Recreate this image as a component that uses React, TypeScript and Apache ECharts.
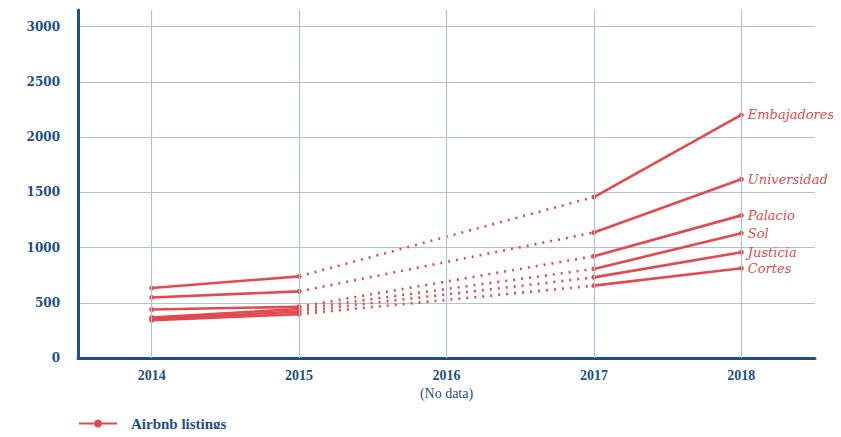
import React, { useEffect, useRef } from "react";
import * as echarts from "echarts";

const years = ["2014", "2015", "2016", "2017", "2018"];
const districts = ["Embajadores", "Universidad", "Palacio", "Sol", "Justicia", "Cortes"];
const listings2014 = [633, 548, 439, 367, 352, 342];
const listings2015 = [739, 603, 464, 443, 421, 397];
const listings2017 = [1457, 1136, 921, 806, 730, 655];
const listings2018 = [2200, 1618, 1291, 1130, 957, 812];
const yTicks = [0, 500, 1000, 1500, 2000, 2500, 3000];

const RED = "#e24a4f";
const BLUE = "#1d4f8b";
const GRID = "#aec2d8";
const SERIES_NAME = "Airbnb listings";

export default function App() {
  const ref = useRef<HTMLDivElement>(null);
  useEffect(() => {
    if (!ref.current) return;
    const chart = echarts.init(ref.current, null, { renderer: "svg" });
    const series: any[] = [];
    series.push({
      type: "line",
      name: "grid",
      data: [],
      silent: true,
      z: 1,
      markLine: {
        silent: true,
        symbol: ["none", "none"],
        label: { show: false },
        lineStyle: { color: GRID, width: 1.2, type: "solid" },
        data: years.map((y) => ({ xAxis: y })),
      },
    });
    districts.forEach((d, i) => {
      series.push({
        type: "line",
        name: SERIES_NAME,
        z: 3,
        data: [listings2014[i], listings2015[i], null, null, null],
        symbol: "circle",
        symbolSize: 5,
        lineStyle: { color: RED, width: 2.6 },
        itemStyle: { color: RED },
      });
      series.push({
        type: "line",
        name: SERIES_NAME,
        z: 3,
        data: [null, listings2015[i], null, listings2017[i], null],
        connectNulls: true,
        showSymbol: false,
        lineStyle: { color: RED, width: 2.6, type: [2, 6] },
        itemStyle: { color: RED },
      });
      series.push({
        type: "line",
        name: SERIES_NAME,
        z: 3,
        data: [
          null,
          null,
          null,
          listings2017[i],
          {
            value: listings2018[i],
            label: {
              show: true,
              position: "right",
              distance: 4,
              formatter: d,
              color: RED,
              fontFamily: "DejaVu Serif",
              fontStyle: "italic",
              fontSize: 13,
            },
          },
        ],
        symbol: "circle",
        symbolSize: 5,
        lineStyle: { color: RED, width: 2.6 },
        itemStyle: { color: RED },
      });
    });

    chart.setOption({
      animation: false,
      grid: { left: 78, right: 26, top: 10, bottom: 79 },
      legend: {
        data: [SERIES_NAME],
        left: 78,
        top: 416,
        padding: 0,
        itemWidth: 38,
        itemHeight: 10,
        textStyle: {
          color: BLUE,
          fontFamily: "Liberation Serif",
          fontWeight: "bold",
          fontSize: 15,
          padding: [0, 0, 0, 9],
        },
      },
      xAxis: {
        type: "category",
        data: years,
        boundaryGap: true,
        axisLine: { show: true, lineStyle: { color: BLUE, width: 3 } },
        axisTick: { show: false },
        splitLine: { show: false },
        axisLabel: {
          margin: 8,
          color: BLUE,
          fontFamily: "Liberation Serif",
          fontWeight: "bold",
          fontSize: 14,
          formatter: (v: string) => (v === "2016" ? "{b|2016}\n{n|(No data)}" : "{b|" + v + "}"),
          rich: {
            b: { color: BLUE, fontFamily: "Liberation Serif", fontWeight: "bold", fontSize: 14, lineHeight: 18 },
            n: { color: BLUE, fontFamily: "Liberation Serif", fontWeight: "normal", fontSize: 14, lineHeight: 18 },
          },
        },
      },
      yAxis: {
        type: "value",
        min: yTicks[0],
        max: 3150,
        interval: yTicks[1] - yTicks[0],
        axisLine: { show: true, lineStyle: { color: BLUE, width: 3 } },
        axisTick: { show: false },
        axisLabel: {
          margin: 18,
          showMaxLabel: false,
          color: BLUE,
          fontFamily: "DejaVu Serif",
          fontWeight: "bold",
          fontSize: 12,
          formatter: (v: number) => String(v),
        },
        splitLine: { show: true, showMaxLine: false, lineStyle: { color: GRID, width: 1.2 } },
      },
      series,
    });
    return () => chart.dispose();
  }, []);
  return <div ref={ref} style={{ width: 841, height: 437, margin: -8 }} />;
}
